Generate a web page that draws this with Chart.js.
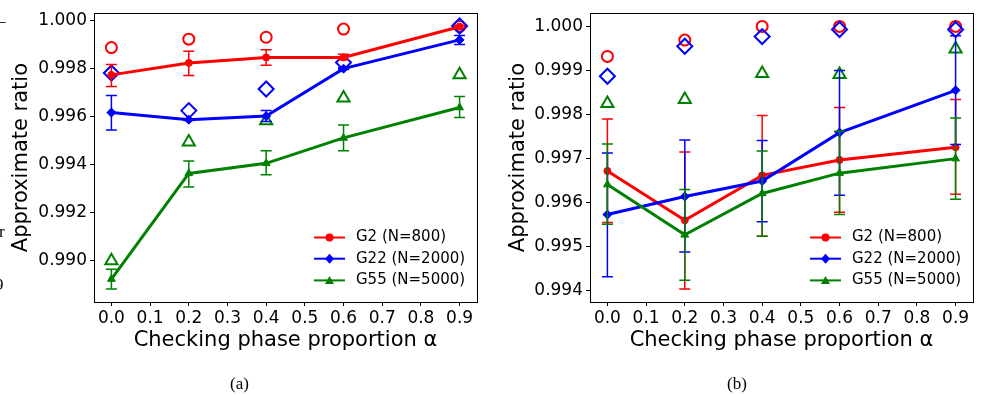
<!DOCTYPE html>
<html>
<head>
<meta charset="utf-8">
<script src="https://cdn.jsdelivr.net/npm/chart.js@4.4.0/dist/chart.umd.min.js"></script>
<style>
  body { margin: 0; background: #fff; width: 990px; height: 395px; overflow: hidden; position: relative; }
  canvas { position: absolute; top: 0; }
  #chartA { left: 0; }
  #chartB { left: 495px; }
  .caption { position: absolute; top: 374px; font-family: 'Liberation Serif', serif; font-size: 17px; }
  .edge { position: absolute; font-family: 'Liberation Serif', serif; font-size: 17px; }
</style>
</head>
<body>
<canvas id="chartA" width="495" height="395"></canvas>
<canvas id="chartB" width="495" height="395"></canvas>
<div class="caption" style="left:230px">(a)</div>
<div class="caption" style="left:727px">(b)</div>
<div class="edge" style="left:-3px; top:11px">–</div>
<div class="edge" style="left:-4px; top:168px">l</div>
<div class="edge" style="left:-1px; top:222px">r</div>
<div class="edge" style="left:-5px; top:275px">9</div>
<script>
// checking phase proportion values
const alphas = [0.0, 0.2, 0.4, 0.6, 0.9];
const xTicks = [0.0, 0.1, 0.2, 0.3, 0.4, 0.5, 0.6, 0.7, 0.8, 0.9];
const yTicksA = [0.990, 0.992, 0.994, 0.996, 0.998, 1.000];
const yTicksB = [0.994, 0.995, 0.996, 0.997, 0.998, 0.999, 1.000];
const seriesNames = ['G2 (N=800)', 'G22 (N=2000)', 'G55 (N=5000)'];

// --- (a) ---
const g2MeanA = [0.99774, 0.99824, 0.99847, 0.99847, 0.99975];
const g2LowA  = [0.99726, 0.99771, 0.99814, 0.99837, 0.99970];
const g2HighA = [0.99817, 0.99873, 0.99879, 0.99860, 0.99980];
const g2BestA = [0.99888, 0.99923, 0.99931, 0.99965, 0.99976];

const g22MeanA = [0.99617, 0.99587, 0.99602, 0.99800, 0.99920];
const g22LowA  = [0.99544, 0.99584, 0.99580, 0.99796, 0.99901];
const g22HighA = [0.99688, 0.99590, 0.99625, 0.99804, 0.99938];
const g22BestA = [0.99782, 0.99625, 0.99715, 0.99826, 0.99978];

const g55MeanA = [0.98922, 0.99363, 0.99405, 0.99511, 0.99638];
const g55LowA  = [0.98881, 0.99306, 0.99357, 0.99457, 0.99596];
const g55HighA = [0.98963, 0.99415, 0.99457, 0.99565, 0.99684];
const g55BestA = [0.98999, 0.99494, 0.99583, 0.99678, 0.99775];

// --- (b) ---
const g2MeanB = [0.99672, 0.99560, 0.99662, 0.99697, 0.99726];
const g2LowB  = [0.99555, 0.99404, 0.99524, 0.99578, 0.99619];
const g2HighB = [0.99790, 0.99715, 0.99798, 0.99816, 0.99834];
const g2BestB = [0.99932, 0.99969, 1.00000, 1.00000, 1.00000];

const g22MeanB = [0.99573, 0.99614, 0.99649, 0.99759, 0.99855];
const g22LowB  = [0.99432, 0.99488, 0.99557, 0.99617, 0.99732];
const g22HighB = [0.99713, 0.99742, 0.99741, 0.99900, 0.99979];
const g22BestB = [0.99887, 0.99955, 0.99977, 0.99993, 0.99993];

const g55MeanB = [0.99641, 0.99527, 0.99621, 0.99667, 0.99700];
const g55LowB  = [0.99551, 0.99424, 0.99524, 0.99573, 0.99608];
const g55HighB = [0.99733, 0.99630, 0.99717, 0.99762, 0.99792];
const g55BestB = [0.99825, 0.99834, 0.99893, 0.99891, 0.99949];

const colors = ['#ff0000', '#0000ff', '#008000'];
const meanStyles = [
    { pointStyle: 'circle', radius: 3.5 },
    { pointStyle: 'rectRot', radius: 4.5 },
    { pointStyle: 'triangle', radius: 4.5 }
];
const bestStyles = [
    { pointStyle: 'circle', radius: 5.5 },
    { pointStyle: 'rectRot', radius: 7.5 },
    { pointStyle: 'triangle', radius: 7 }
];

Chart.defaults.font.family = 'DejaVu Sans';
Chart.defaults.color = '#000';

const toPoints = (ys) => ys.map((y, i) => ({ x: alphas[i], y: y }));

function buildDatasets(means, lows, highs, bests) {
    const sets = [];
    // open markers: best result per alpha
    bests.forEach((b, k) => {
        sets.push({
            data: toPoints(b),
            showLine: false,
            borderColor: colors[k],
            backgroundColor: 'rgba(0,0,0,0)',
            pointStyle: bestStyles[k].pointStyle,
            pointRadius: bestStyles[k].radius,
            pointBorderWidth: 2,
            order: 20 - k
        });
    });
    // mean lines with error bars
    means.forEach((m, k) => {
        sets.push({
            label: seriesNames[k],
            data: toPoints(m),
            errLow: lows[k],
            errHigh: highs[k],
            showLine: true,
            borderColor: colors[k],
            backgroundColor: colors[k],
            borderWidth: 3,
            pointStyle: meanStyles[k].pointStyle,
            pointRadius: meanStyles[k].radius,
            pointBorderWidth: 1,
            order: 10 - k
        });
    });
    return sets;
}

// vertical error bars with caps, drawn right after each mean line
const errorBars = {
    id: 'errorBars',
    afterDatasetDraw(chart, args) {
        const ds = chart.data.datasets[args.index];
        if (!ds.errLow) return;
        const xs = chart.scales.x, ys = chart.scales.y;
        const ctx = chart.ctx;
        ctx.save();
        ctx.strokeStyle = ds.borderColor;
        ctx.lineWidth = 1.5;
        ds.data.forEach((p, i) => {
            const x = xs.getPixelForValue(p.x);
            const y0 = ys.getPixelForValue(ds.errLow[i]);
            const y1 = ys.getPixelForValue(ds.errHigh[i]);
            ctx.beginPath();
            ctx.moveTo(x, y0); ctx.lineTo(x, y1);
            ctx.moveTo(x - 5.5, y0); ctx.lineTo(x + 5.5, y0);
            ctx.moveTo(x - 5.5, y1); ctx.lineTo(x + 5.5, y1);
            ctx.stroke();
        });
        ctx.restore();
    }
};

// full box around the plot + legend inside lower right
const frameAndLegend = {
    id: 'frameAndLegend',
    afterDraw(chart) {
        const ctx = chart.ctx;
        const a = chart.chartArea;
        ctx.save();
        ctx.strokeStyle = '#000';
        ctx.lineWidth = 1;
        ctx.strokeRect(Math.round(a.left) + 0.5, Math.round(a.top) + 0.5,
                       Math.round(a.right - a.left), Math.round(a.bottom - a.top));

        const rows = [64.5, 43.3, 21.6];
        const items = chart.data.datasets.filter(d => d.errLow);
        items.forEach((d, k) => {
            const y = a.bottom - rows[k];
            const x0 = a.right - 163, x1 = a.right - 132, xm = (x0 + x1) / 2;
            ctx.strokeStyle = d.borderColor;
            ctx.fillStyle = d.borderColor;
            ctx.lineWidth = 2;
            ctx.beginPath(); ctx.moveTo(x0, y); ctx.lineTo(x1, y); ctx.stroke();
            ctx.beginPath();
            if (d.pointStyle === 'circle') {
                ctx.arc(xm, y, 4, 0, Math.PI * 2);
            } else if (d.pointStyle === 'rectRot') {
                ctx.moveTo(xm, y - 5); ctx.lineTo(xm + 4.5, y); ctx.lineTo(xm, y + 5); ctx.lineTo(xm - 4.5, y);
            } else {
                ctx.moveTo(xm, y - 4.5); ctx.lineTo(xm + 4.5, y + 3.5); ctx.lineTo(xm - 4.5, y + 3.5);
            }
            ctx.closePath();
            ctx.fill();
            ctx.fillStyle = '#000';
            ctx.font = '15px "DejaVu Sans"';
            ctx.textBaseline = 'middle';
            ctx.textAlign = 'left';
            ctx.fillText(d.label, a.right - 121, y);
        });
        ctx.restore();
    }
};

function makeOptions(yMin, yMax, yTicks, decimals, yTitlePad, yWidth, padRight) {
    return {
        responsive: false,
        animation: false,
        layout: { padding: { left: 0, right: padRight, top: 11, bottom: 0 } },
        plugins: { legend: { display: false }, tooltip: { enabled: false } },
        scales: {
            x: {
                type: 'linear',
                min: -0.045, max: 0.945,
                afterBuildTicks: (s) => { s.ticks = xTicks.map(v => ({ value: v })); },
                afterFit: (s) => { s.height = 93; },
                ticks: { font: { size: 17 }, padding: 2, maxRotation: 0, callback: (v) => v.toFixed(1) },
                grid: { drawOnChartArea: false, tickLength: 4, color: '#000' },
                border: { display: false },
                title: { display: true, text: 'Checking phase proportion α', font: { size: 21 }, padding: { top: 0, bottom: 42 } }
            },
            y: {
                type: 'linear',
                min: yMin, max: yMax,
                afterBuildTicks: (s) => { s.ticks = yTicks.map(v => ({ value: v })); },
                afterFit: (s) => { s.width = yWidth; },
                ticks: { font: { size: 17 }, padding: 3, callback: (v) => v.toFixed(decimals) },
                grid: { drawOnChartArea: false, tickLength: 4, color: '#000' },
                border: { display: false },
                title: { display: true, text: 'Approximate ratio', font: { size: 21 }, padding: { top: yTitlePad, bottom: 0 } }
            }
        }
    };
}

new Chart(document.getElementById('chartA').getContext('2d'), {
    type: 'scatter',
    data: { datasets: buildDatasets(
        [g2MeanA, g22MeanA, g55MeanA], [g2LowA, g22LowA, g55LowA],
        [g2HighA, g22HighA, g55HighA], [g2BestA, g22BestA, g55BestA]) },
    options: makeOptions(0.988264, 1.000314, yTicksA, 3, 9, 94, 18),
    plugins: [errorBars, frameAndLegend]
});

new Chart(document.getElementById('chartB').getContext('2d'), {
    type: 'scatter',
    data: { datasets: buildDatasets(
        [g2MeanB, g22MeanB, g55MeanB], [g2LowB, g22LowB, g55LowB],
        [g2HighB, g22HighB, g55HighB], [g2BestB, g22BestB, g55BestB]) },
    options: makeOptions(0.993746, 1.0003, yTicksB, 3, 10.7, 95, 17),
    plugins: [errorBars, frameAndLegend]
});
</script>
</body>
</html>
